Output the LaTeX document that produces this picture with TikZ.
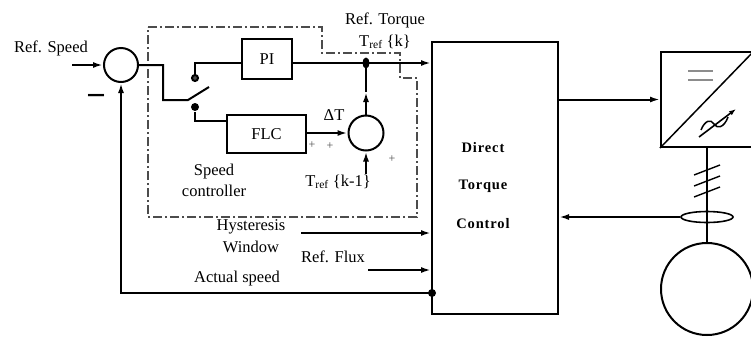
\documentclass[tikz,border=0pt]{standalone}
\usepackage{fontspec}
\setmainfont{Liberation Serif}
\newfontfamily\dtcfont{Liberation Serif}[LetterSpace=6]
\newfontfamily\signfont{DejaVu Sans}
\usetikzlibrary{arrows.meta,shapes.geometric,calc}
\begin{document}
\begin{tikzpicture}[x=1pt,y=-1pt,
  line width=2pt,
  every node/.style={font=\fontsize{16.5}{21}\selectfont, inner sep=0pt},
  blk/.style={draw, line width=2pt},
  arr/.style={-{Latex[length=10pt,width=6pt]}},
  sumc/.style={draw,circle,line width=2pt,minimum size=34pt},
  ctrlbox/.style={draw=black!70,line width=1.6pt,dash pattern=on 9pt off 3pt on 2pt off 3pt},
  dotn/.style={circle,fill,minimum size=8pt},
  pluslbl/.style={font=\fontsize{12}{14}\selectfont, text=black!70},
  dtclbl/.style={font={\dtcfont\bfseries\fontsize{14.5}{16}\selectfont}}]
\useasboundingbox (0,0) rectangle (751,338);

% control box (dash-dot)
\draw[ctrlbox] (148,27) -- (322,27) -- (322,53) -- (400,53) -- (400,78) -- (417,78) -- (417,217) -- (148,217) -- cycle;

% blocks
\node[sumc] (s1) at (121,65) {};
\node[blk,minimum width=50pt,minimum height=40pt] (pi) at (267,59) {PI};
\node[blk,minimum width=79pt,minimum height=38pt] (flc) at (266.5,134) {FLC};
\node[sumc,minimum size=35pt] (s2) at (366,133) {};
\node[blk,minimum width=126pt,minimum height=272pt] (dtc) at (495,178) {};
\begin{scope}
\clip (0,0) rectangle (751,338);
\node[blk,minimum width=92pt,minimum height=95pt] (inv) at (707,99.5) {};
\draw[line width=1.5pt] (inv.south west) -- (inv.north east);
\end{scope}
\node[draw,circle,minimum size=92pt] (mot) at (707,289) {};

% labels
\node (refspeed) at (51,48) {Ref. Speed};
\node (minus) at (96,97) {\signfont\bfseries\fontsize{18}{20}\selectfont —};
\node (reftorque) at (385,20) {Ref. Torque};
\node (trefk) at (385,42) {T\textsubscript{ref} \{k\}};
\node (dT) at (334,115) {ΔT};
\node[pluslbl] (p1) at (312,145) {+};
\node[pluslbl] (p2) at (330,146) {+};
\node[pluslbl] (p3) at (392,159) {+};
\node[align=center] (sc) at (214,180) {Speed\\controller};
\node (trefk1) at (338,182) {T\textsubscript{ref} \{k-1\}};
\node[align=center,font=\fontsize{16.5}{22}\selectfont] (hyst) at (251,236) {Hysteresis\\Window};
\node (flux) at (333,257) {Ref. Flux};
\node (act) at (237,279) {Actual speed};
\node[dtclbl] (t1) at (483,148) {Direct};
\node[dtclbl] (t2) at (483,186) {Torque};
\node[dtclbl] (t3) at (483,224) {Control};

% input and switch
\coordinate (in1) at (72,65);
\draw[arr] (in1) -- (s1.west);
\coordinate (b1) at (163,65);
\coordinate (b2) at (163,100);
\coordinate (piv) at (188,100);
\coordinate (bl) at (209,87);
\draw (s1.east) -- (b1) -- (b2) -- (piv) -- (bl);
\node[circle,draw,fill=black!70,minimum size=6pt,line width=2pt] (tu) at (195,78) {};
\node[dotn] (tl) at (195,107) {};
\coordinate (jd) at (366,63);
\draw (tu.north) |- (pi.west |- jd);
\draw (tl.south) |- ([yshift=13pt]flc.west);

% torque path
\node[dotn,ellipse,minimum width=7pt,minimum height=11pt] (jdot) at (jd) {};
\draw[arr] (pi.east |- jd) -- (dtc.west |- jd);
\draw[arr] (flc.east |- s2.west) -- (s2.west);
\coordinate (mid) at ($(s2.north)!0.5!(jdot.south)$);
\draw[arr] (s2.north) -- (mid);
\draw (mid) -- (jdot.center);
\coordinate (tk1) at (366,174);
\draw[arr] (tk1) -- (s2.south);

% other DTC inputs
\coordinate (h0) at (301,233);
\draw[arr] (h0) -- (dtc.west |- h0);
\coordinate (f0) at (368,270);
\draw[arr] (f0) -- (dtc.west |- f0);
\node[dotn] (fdot) at (432,293) {};
\draw[arr] (fdot.center) -| (s1.south);

% power side
\draw[arr] (dtc.east |- inv.west) -- (inv.west);
\draw[black!45,line width=2.6pt] (688,71) -- (713,71);
\draw[black!45,line width=2.6pt] (688,80) -- (713,80);
\draw[line width=1.5pt] (701,130) .. controls (705,120) and (711,119) .. (714,124) .. controls (717,129) and (724,128) .. (728,117);
\draw[line width=1.6pt,-{Latex[length=7pt,width=5pt]}] (699,137) -- (736,109);
\draw (inv.south) -- (mot.north);
\foreach \yy in {170,181,192} \draw[line width=1.4pt] (694,\yy+5) -- (720,\yy-5);
\node[draw,ellipse,minimum width=52pt,minimum height=11pt,line width=1.6pt] (ct) at (707,217) {};
\draw[arr] (ct.west) -- (dtc.east |- ct.west);
\end{tikzpicture}
\end{document}
